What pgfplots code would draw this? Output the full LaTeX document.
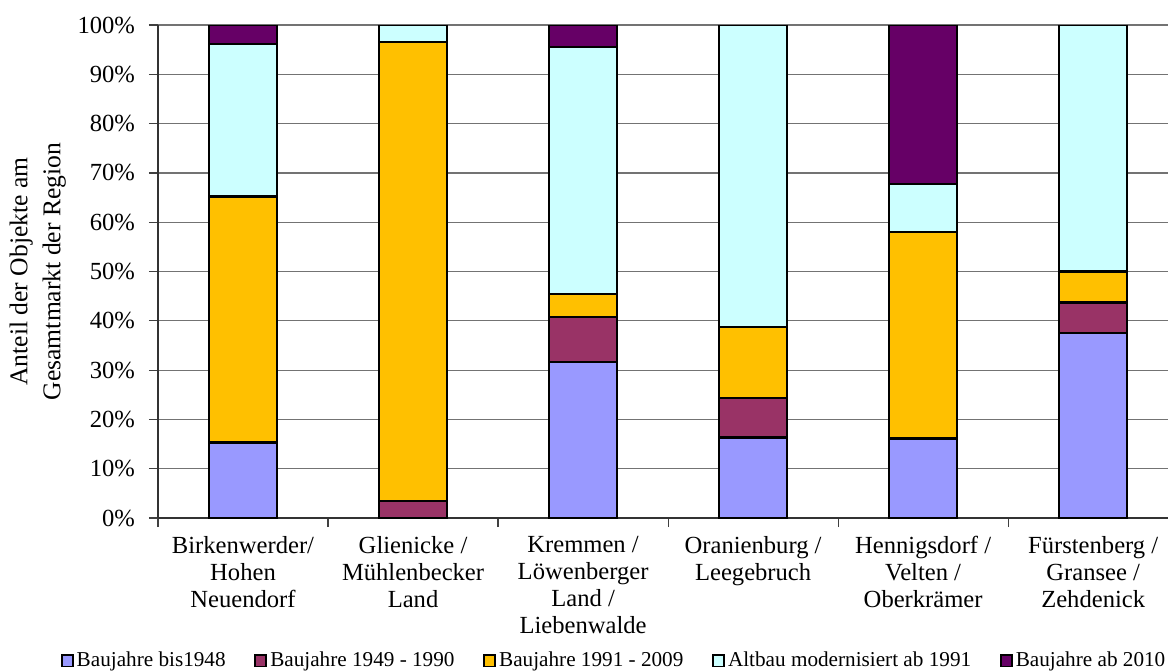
\documentclass[border=0pt]{standalone}
\usepackage{pgfplots}
\pgfplotsset{compat=1.18}
\usepackage{fontspec}
\setmainfont{Liberation Serif}
\definecolor{cBlue}{HTML}{9999FF}
\definecolor{cMaroon}{HTML}{993366}
\definecolor{cOrange}{HTML}{FFC000}
\definecolor{cCyan}{HTML}{CCFFFF}
\definecolor{cPurple}{HTML}{660066}
\pgfplotsset{bs/.style={draw=black, line width=1.2pt, legend image code/.code={\draw[##1,line width=0.9pt] (0pt,-2.8pt) rectangle (5.6pt,2.8pt);}}}
\begin{document}
\begin{tikzpicture}
\begin{axis}[
  scale only axis,
  width=505pt, height=246.5pt,
  ybar stacked, bar width=0.4,
  xmin=-0.5, xmax=5.44,
  ymin=0, ymax=100,
  ytick={0,10,...,100},
  yticklabel={\pgfmathprintnumber{\tick}\%},
  /pgf/number format/assume math mode=true,
  xtick={0,1,2,3,4,5},
  xticklabels={{Birkenwerder/\\Hohen\\Neuendorf},{Glienicke /\\Mühlenbecker\\Land},{Kremmen /\\Löwenberger\\Land /\\Liebenwalde},{Oranienburg /\\Leegebruch},{Hennigsdorf /\\Velten /\\Oberkrämer},{Fürstenberg /\\Gransee /\\Zehdenick}},
  minor xtick={-0.5,0.5,1.5,2.5,3.5,4.5},
  major x tick style={draw=none},
  tick align=outside,
  major tick length=4.5pt, minor tick length=4.5pt,
  tick style={black!75, line width=0.6pt},
  axis x line*=bottom, axis y line*=left,
  axis line style={black!80, line width=0.7pt, -},
  ymajorgrids, grid style={black!55, line width=0.6pt},
  ticklabel style={font=\fontsize{12.3}{13.5}\selectfont},
  xticklabel style={align=center, anchor=north, yshift=-1pt},
  yticklabel style={xshift=-3.5pt},
  ylabel={Anteil der Objekte am\\Gesamtmarkt der Region},
  ylabel style={font=\fontsize{12.8}{16.5}\selectfont, align=center, at={(axis description cs:-0.119,0.5)}, anchor=center},
  legend columns=5,
  legend style={at={(0.452,-0.29)}, anchor=center, draw=none, fill=none,
    font=\fontsize{10.6}{12}\selectfont,
    /tikz/every even column/.append style={column sep=12.8pt},
    nodes={inner sep=1.5pt}},
]
\addplot[fill=cBlue, bs] coordinates {(0,15.3) (1,0) (2,31.7) (3,16.3) (4,16.1) (5,37.5)};
\addplot[fill=cMaroon, bs] coordinates {(0,0) (1,3.4) (2,9.1) (3,8.1) (4,0) (5,6.2)};
\addplot[fill=cOrange, bs] coordinates {(0,49.9) (1,93.2) (2,4.6) (3,14.3) (4,41.9) (5,6.3)};
\addplot[fill=cCyan, bs] coordinates {(0,30.9) (1,3.4) (2,50.1) (3,61.3) (4,9.7) (5,50.0)};
\addplot[fill=cPurple, bs] coordinates {(0,3.9) (1,0) (2,4.5) (3,0) (4,32.3) (5,0)};
\legend{Baujahre bis1948, Baujahre 1949 - 1990, Baujahre 1991 - 2009, Altbau modernisiert ab 1991, Baujahre ab 2010}
\end{axis}
\pgfresetboundingbox
\path ([xshift=-79pt,yshift=-76.5pt]current axis.south west) rectangle ([yshift=12.5pt]current axis.north east);
\end{tikzpicture}
\end{document}
